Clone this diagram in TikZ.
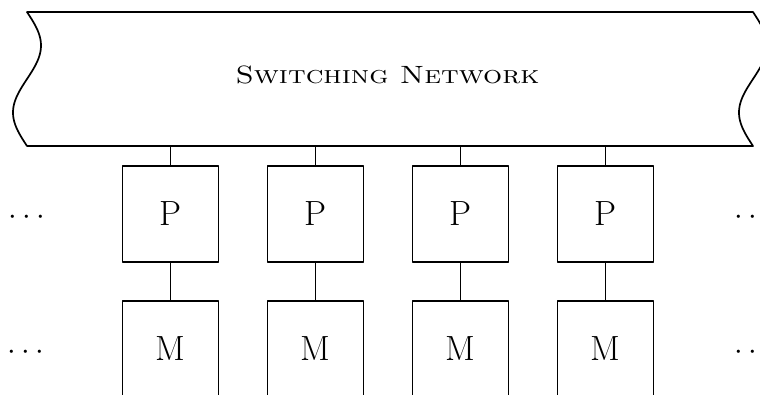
\RequirePackage{fix-cm}
\documentclass[tikz,border=0pt]{standalone}
\usepackage{fontspec}
\newcommand{\widesc}[1]{\scalebox{1.2}[1]{\textsc{#1}}}
\begin{document}
\begin{tikzpicture}[x=1pt,y=-1pt,
  line join=round,
  edge/.style={line width=1.7pt},
  unit/.style={draw,line width=1.7pt,minimum width=96pt,minimum height=96pt,
    inner sep=0pt,font=\fontsize{35}{42}\selectfont},
  netlabel/.style={font=\fontsize{25}{30}\selectfont},
  ellip/.style={anchor=base,font=\fontsize{31}{37}\selectfont,inner sep=0pt}]
  \useasboundingbox (0,0) rectangle (760,394);
  \clip (0,0) rectangle (760,394);

  % switching network banner with wavy ends (one full sine period per end)
  \draw[edge] (27,12) -- (753,12)
    -- plot[domain=12:146,samples=80,variable=\t] ({753+14*sin(2.6866*(\t-12))},\t)
    -- (27,146)
    -- plot[domain=146:12,samples=80,variable=\t] ({27+14*sin(2.6866*(\t-12))},\t)
    -- cycle;
  \node[netlabel] (net) at (387.5,75) {\widesc{Switching Network}};
  \coordinate (netbot) at (0,146);

  % processor / memory columns
  \foreach \i/\cx in {1/170.5,2/315.5,3/460.5,4/605.5}{
    \node[unit] (p\i) at (\cx,214) {P};
    \node[unit] (m\i) at (\cx,349) {M};
    \draw[edge] (p\i.north) -- (p\i.north |- netbot);
    \draw[edge] (p\i.south) -- (m\i.north);
  }

  % continuation dots
  \node[ellip] (dl1) at (27,224.5) {$\cdots$};
  \node[ellip] (dl2) at (26,359.5) {$\cdots$};
  \node[ellip] (dr1) at (753,224.5) {$\cdots$};
  \node[ellip] (dr2) at (753,359.5) {$\cdots$};
\end{tikzpicture}
\end{document}
